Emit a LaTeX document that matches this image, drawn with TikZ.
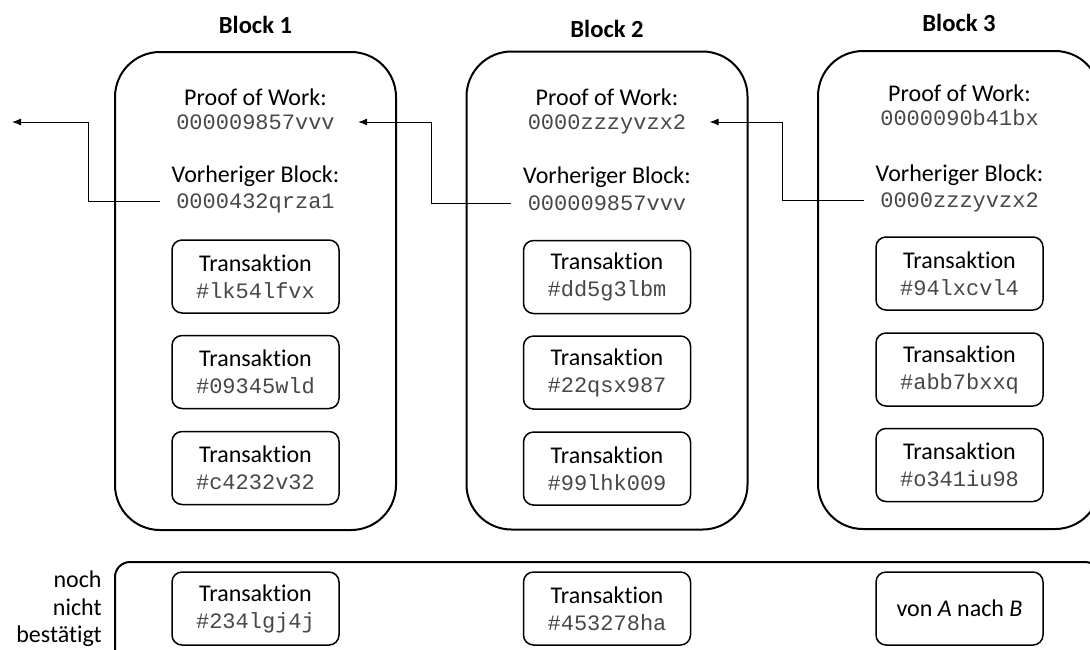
\documentclass[tikz,border=0pt]{standalone}
\usepackage{fontspec}
\setmainfont{Carlito}[Ligatures=NoCommon]
\newfontfamily\codefont{Liberation Mono}
\usetikzlibrary{arrows.meta,positioning,calc}

\newcommand{\hashcode}[1]{{\fontsize{11pt}{13.5pt}\selectfont\codefont\color{black!72}#1}}

\begin{document}
\begin{tikzpicture}[
  x=0.5pt, y=0.5pt,
  font=\fontsize{12pt}{13.5pt}\selectfont,
  chain/.style={draw, line width=1pt, rounded corners=22.5pt,
                minimum width=140.5pt, minimum height=239pt, inner sep=0pt},
  pool/.style={draw, line width=1pt, rounded corners=7.5pt,
               minimum width=492.5pt, minimum height=59pt, inner sep=0pt},
  tx/.style={draw, line width=0.75pt, rounded corners=5pt, align=center,
             minimum width=83.5pt, minimum height=36.5pt, inner sep=2pt},
  ttl/.style={font=\fontsize{12.3pt}{14pt}\selectfont\bfseries},
  lbl/.style={inner sep=0pt},
  hsh/.style={inner sep=0pt, text depth=0pt, text=black!72,
              font=\fontsize{11pt}{13.5pt}\selectfont\codefont},
  link/.style={-{Latex[length=4.5pt,width=3.5pt]}, line width=0.5pt,
               shorten <=8pt, shorten >=11.5pt}
]
\useasboundingbox (0,0) rectangle (1090,-649);

% the three blocks of the chain
\node[chain] (blk1) at (255.5,-291) {};
\node[chain] (blk2) at (607,-290.5) {};
\node[chain, minimum width=141pt] (blk3) at (959,-290) {};

\node[ttl] (ttl1) at (255.5,-25) {Block 1};
\node[ttl] (ttl2) at (607,-29) {Block 2};
\node[ttl] (ttl3) at (959,-23) {Block 3};

% block 1
\node[lbl] (powl1) at (255.5,-97) {Proof of Work:};
\node[hsh] (pow1) at (255.5,-122) {000009857vvv};
\node[lbl] (prevl1) at (255.5,-176) {Vorheriger Block:};
\node[hsh] (prev1) at (255.5,-201) {0000432qrza1};
\node[tx] (t11) at (255.5,-276.5) {Transaktion\\\hashcode{\#lk54lfvx}};
\node[tx] (t12) at (255.5,-372) {Transaktion\\\hashcode{\#09345wld}};
\node[tx] (t13) at (255.5,-468) {Transaktion\\\hashcode{\#c4232v32}};

% block 2
\node[lbl] (powl2) at (607,-97) {Proof of Work:};
\node[hsh] (pow2) at (607,-122) {0000zzzyvzx2};
\node[lbl] (prevl2) at (607,-177) {Vorheriger Block:};
\node[hsh] (prev2) at (607,-203) {000009857vvv};
\node[tx] (t21) at (607,-277) {Transaktion\\\hashcode{\#dd5g3lbm}};
\node[tx] (t22) at (607,-372.5) {Transaktion\\\hashcode{\#22qsx987}};
\node[tx] (t23) at (607,-468.5) {Transaktion\\\hashcode{\#99lhk009}};

% block 3
\node[lbl] (powl3) at (959.5,-93) {Proof of Work:};
\node[hsh] (pow3) at (959.5,-118) {0000090b41bx};
\node[lbl] (prevl3) at (959.5,-175) {Vorheriger Block:};
\node[hsh] (prev3) at (959.5,-200) {0000zzzyvzx2};
\node[tx] (t31) at (959.5,-273.5) {Transaktion\\\hashcode{\#94lxcvl4}};
\node[tx] (t32) at (959.5,-369.5) {Transaktion\\\hashcode{\#abb7bxxq}};
\node[tx] (t33) at (959.5,-465) {Transaktion\\\hashcode{\#o341iu98}};

% pending transactions
\node[pool] (pool) at (607.5,-621) {};
\node[lbl, align=right, anchor=east, font=\fontsize{12pt}{13.75pt}\selectfont]
  (pend) at (102,-609) {noch\\nicht\\bestätigt};
\node[tx] (p1) at (255.5,-608.5) {Transaktion\\\hashcode{\#234lgj4j}};
\node[tx] (p2) at (607,-608.5) {Transaktion\\\hashcode{\#453278ha}};
\node[tx] (p3) at (959.5,-608.5) {von \textit{A} nach \textit{B}};

% back links to the previous block
\coordinate (prev0) at (12,-122);
\coordinate (m01) at (88,-122);
\coordinate (m12) at ($(blk1.east)!0.5!(blk2.west)$);
\coordinate (m23) at ($(blk2.east)!0.5!(blk3.west)$);

\draw[link, shorten >=0pt] (prev1.west) -- (prev1.west -| m01) |- (prev0);
\draw[link] (prev2.west) -- (prev2.west -| m12) |- (pow1.east);
\draw[link] (prev3.west) -- (prev3.west -| m23) |- (pow2.east);
\end{tikzpicture}
\end{document}
